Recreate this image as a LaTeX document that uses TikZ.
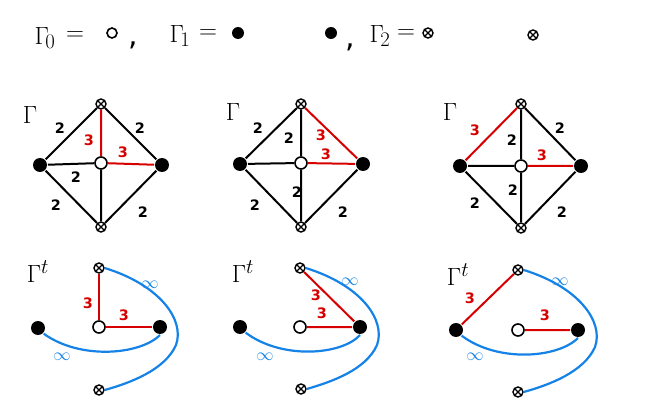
\documentclass[tikz,border=0pt]{standalone}
\usepackage{fontspec}
\setmainfont{DejaVu Sans}
\begin{document}
\begin{tikzpicture}[x=1pt,y=-1pt,line width=2pt,
 wv/.style={circle,draw=black,fill=white,line width=1.6pt,minimum size=12pt,inner sep=0pt},
 bv/.style={circle,fill=black,minimum size=14pt,inner sep=0pt},
 xv/.style={circle,draw=black,fill=white,line width=1.4pt,minimum size=10pt,inner sep=0pt,
   path picture={\draw[line width=1.2pt] (path picture bounding box.north west)--(path picture bounding box.south east) (path picture bounding box.north east)--(path picture bounding box.south west);}},
 red/.style={draw={rgb,255:red,214;green,0;blue,0}},
 blue/.style={draw={rgb,255:red,20;green,130;blue,230},line width=2.2pt},
 lb/.style={font=\bfseries\Large,inner sep=0pt},
 lr/.style={lb,text={rgb,255:red,214;green,0;blue,0}},
 li/.style={font=\fontsize{17}{17}\selectfont,inner sep=0pt,text={rgb,255:red,20;green,130;blue,230}},
 gam/.style={font=\fontsize{30}{30}\selectfont,inner sep=0pt}]
\useasboundingbox (0,0) rectangle (654,409);
% top line
\node[gam] (g0) at (45,38) {$\Gamma_{\!0}$};
\node[gam] (e0) at (75,36) {$=$};
\node[wv,minimum size=10pt] (a0) at (112,33) {};
\node[gam] (c1) at (133,45) {,};
\node[gam] (g1) at (180,36) {$\Gamma_{\!1}$};
\node[gam] (e1) at (208,34) {$=$};
\node[bv,minimum size=12pt] (a1) at (238,33) {};
\node[bv,minimum size=12pt] (a2) at (331,33) {};
\node[gam] (c2) at (350,47) {,};
\node[gam] (g2) at (380,36) {$\Gamma_{\!2}$};
\node[gam] (e2) at (406,34) {$=$};
\node[xv] (a3) at (428,33) {};
\node[xv] (a4) at (533,35) {};
% diagram 1
\node[gam] (G1) at (30,115) {$\Gamma$};
\node[xv] (t1) at (101,104) {}; \node[bv] (l1) at (40,165) {}; \node[wv] (c1v) at (101,163) {};
\node[bv] (r1) at (162,165) {}; \node[xv] (b1) at (101,227) {};
\draw (l1)--(t1) (t1)--(r1) (l1)--(c1v) (c1v)--(b1) (l1)--(b1) (b1)--(r1);
\draw[red] (t1)--(c1v) (c1v)--(r1);
\node[lb] at (60,128) {2}; \node[lb] at (140,128) {2}; \node[lr] at (89,140) {3};
\node[lr] at (123,152) {3}; \node[lb] at (76,177) {2}; \node[lb] at (56,205) {2}; \node[lb] at (143,212) {2};
% diagram 2
\node[gam] (G2) at (233,112) {$\Gamma$};
\node[xv] (t2) at (301,104) {}; \node[bv] (l2) at (240,164) {}; \node[wv] (c2v) at (301,163) {};
\node[bv] (r2) at (363,164) {}; \node[xv] (b2) at (301,227) {};
\draw (l2)--(t2) (t2)--(c2v) (l2)--(c2v) (c2v)--(b2) (l2)--(b2) (b2)--(r2);
\draw[red] (t2)--(r2) (c2v)--(r2);
\node[lb] at (258,128) {2}; \node[lb] at (289,138) {2}; \node[lr] at (321,135) {3};
\node[lr] at (326,154) {3}; \node[lb] at (297,192) {2}; \node[lb] at (255,205) {2}; \node[lb] at (343,212) {2};
% diagram 3
\node[gam] (G3) at (450,112) {$\Gamma$};
\node[xv] (t3) at (521,104) {}; \node[bv] (l3) at (460,166) {}; \node[wv] (c3v) at (521,166) {};
\node[bv] (r3) at (581,166) {}; \node[xv] (b3) at (521,228) {};
\draw (t3)--(r3) (t3)--(c3v) (l3)--(c3v) (c3v)--(b3) (l3)--(b3) (b3)--(r3);
\draw[red] (l3)--(t3) (c3v)--(r3);
\node[lr] at (475,130) {3}; \node[lb] at (512,140) {2}; \node[lb] at (560,128) {2};
\node[lr] at (542,155) {3}; \node[lb] at (513,190) {2}; \node[lb] at (475,203) {2}; \node[lb] at (562,212) {2};
% bottom 1
\node[gam] (H1) at (38,272) {$\Gamma^{t}$};
\node[xv] (u1) at (99,268) {}; \node[bv] (m1) at (38,328) {}; \node[wv] (n1) at (99,327) {};
\node[bv] (s1) at (160,327) {}; \node[xv] (d1) at (99,390) {};
\draw[red] (u1)--(n1) (n1)--(s1);
\draw[blue] (u1.east) .. controls (160,285) and (185,320) .. (176,345) .. controls (165,370) and (130,383) .. (d1.east);
\draw[blue] (m1.south east) .. controls (80,360) and (140,355) .. (s1.south);
\node[lr] at (88,303) {3}; \node[lr] at (124,315) {3};
\node[li] at (150,285) {$\infty$}; \node[li] at (62,357) {$\infty$};
% bottom 2
\node[gam] (H2) at (243,272) {$\Gamma^{t}$};
\node[xv] (u2) at (300,268) {}; \node[bv] (m2) at (240,327) {}; \node[wv] (n2) at (300,327) {};
\node[bv] (s2) at (360,327) {}; \node[xv] (d2) at (301,389) {};
\draw[red] (u2)--(s2) (n2)--(s2);
\draw[blue] (u2.east) .. controls (361,285) and (386,320) .. (377,345) .. controls (366,370) and (331,382) .. (d2.east);
\draw[blue] (m2.south east) .. controls (282,360) and (342,355) .. (s2.south);
\node[lr] at (316,295) {3}; \node[lr] at (322,313) {3};
\node[li] at (350,282) {$\infty$}; \node[li] at (265,357) {$\infty$};
% bottom 3
\node[gam] (H3) at (458,275) {$\Gamma^{t}$};
\node[xv] (u3) at (518,270) {}; \node[bv] (m3) at (456,330) {}; \node[wv] (n3) at (518,330) {};
\node[bv] (s3) at (578,330) {}; \node[xv] (d3) at (518,392) {};
\draw[red] (m3)--(u3) (n3)--(s3);
\draw[blue] (u3.east) .. controls (579,287) and (604,322) .. (595,347) .. controls (584,372) and (549,385) .. (d3.east);
\draw[blue] (m3.south east) .. controls (498,363) and (558,358) .. (s3.south);
\node[lr] at (470,298) {3}; \node[lr] at (545,315) {3};
\node[li] at (560,282) {$\infty$}; \node[li] at (475,357) {$\infty$};
\end{tikzpicture}
\end{document}
